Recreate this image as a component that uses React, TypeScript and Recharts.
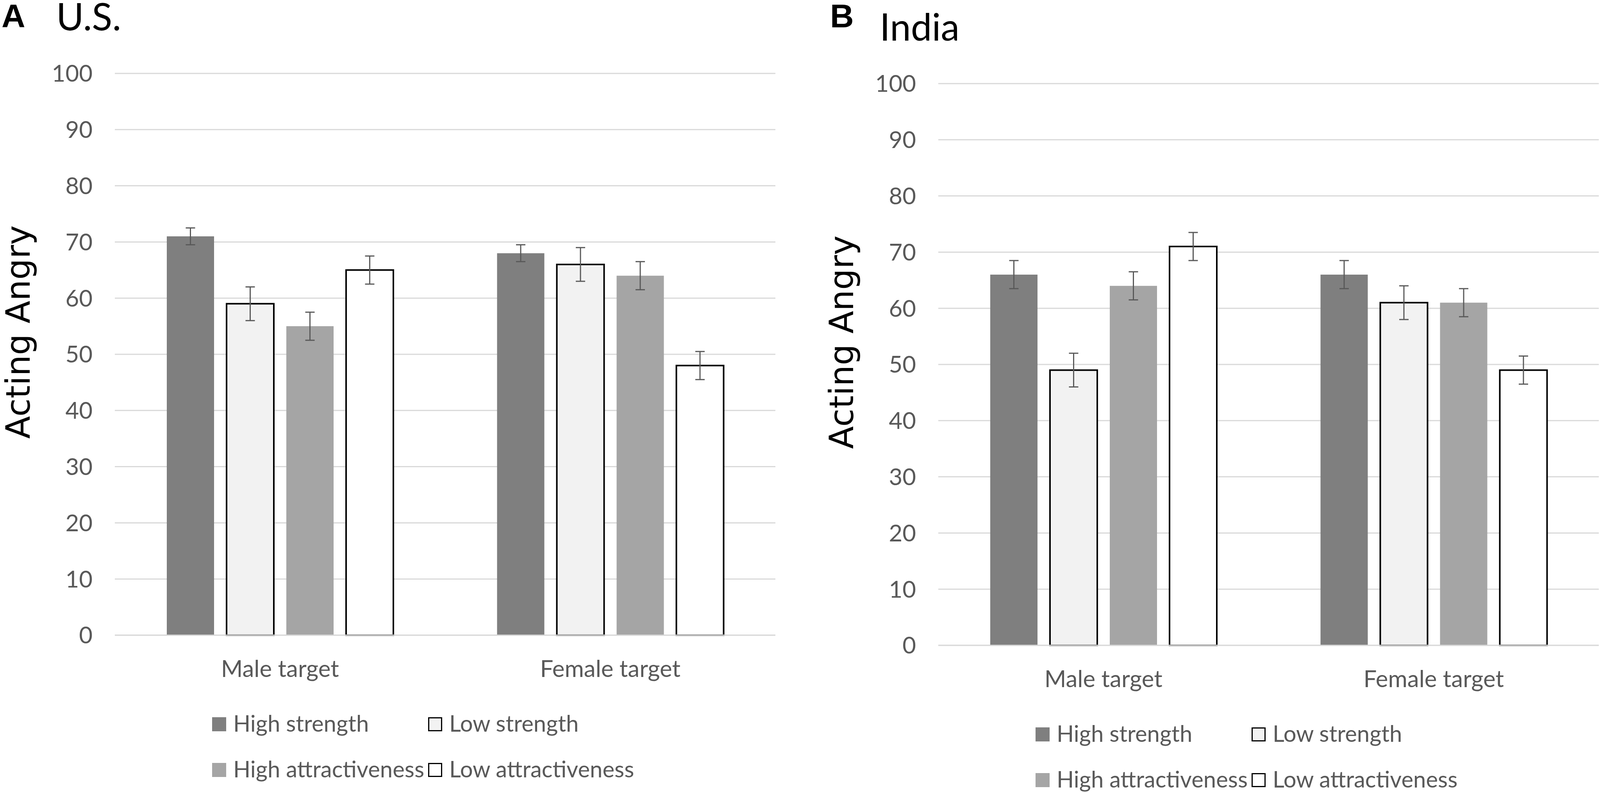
import React from 'react';
import { BarChart, Bar, XAxis, YAxis, CartesianGrid, ErrorBar, Legend } from 'recharts';

// categories and series
const categories = ['Male target', 'Female target'];
const seriesNames = ['High strength', 'Low strength', 'High attractiveness', 'Low attractiveness'];
const yTicks = [0, 10, 20, 30, 40, 50, 60, 70, 80, 90, 100];

// U.S. means and error bars
const usHighStrength = [71, 68];
const usLowStrength = [59, 66];
const usHighAttractiveness = [55, 64];
const usLowAttractiveness = [65, 48];
const usHighStrengthErr = [1.5, 1.5];
const usLowStrengthErr = [3, 3];
const usHighAttractivenessErr = [2.5, 2.5];
const usLowAttractivenessErr = [2.5, 2.5];

// India means and error bars
const indiaHighStrength = [66, 66];
const indiaLowStrength = [49, 61];
const indiaHighAttractiveness = [64, 61];
const indiaLowAttractiveness = [71, 49];
const indiaHighStrengthErr = [2.5, 2.5];
const indiaLowStrengthErr = [3, 3];
const indiaHighAttractivenessErr = [2.5, 2.5];
const indiaLowAttractivenessErr = [2.5, 2.5];

const seriesStyle = [
  { key: 's0', fill: '#7f7f7f', stroke: 'none' },
  { key: 's1', fill: '#f2f2f2', stroke: '#000000' },
  { key: 's2', fill: '#a5a5a5', stroke: 'none' },
  { key: 's3', fill: '#ffffff', stroke: '#000000' },
];

const buildRows = (vals: number[][], errs: number[][]) =>
  categories.map((name, i) => {
    const row: Record<string, any> = { name };
    vals.forEach((v, s) => {
      row[`s${s}`] = v[i];
      row[`s${s}Err`] = errs[s][i];
    });
    return row;
  });

const usRows = buildRows(
  [usHighStrength, usLowStrength, usHighAttractiveness, usLowAttractiveness],
  [usHighStrengthErr, usLowStrengthErr, usHighAttractivenessErr, usLowAttractivenessErr]
);
const indiaRows = buildRows(
  [indiaHighStrength, indiaLowStrength, indiaHighAttractiveness, indiaLowAttractiveness],
  [indiaHighStrengthErr, indiaLowStrengthErr, indiaHighAttractivenessErr, indiaLowAttractivenessErr]
);

const FONT = 'Lato, "Open Sans", sans-serif';
const TEXT_GREY = '#595959';
const GRID = '#d9d9d9';

// the visible page is 4096 wide, so horizontal positions are squeezed to fit
const PAGE_W = 4096;
const PAGE_H = 2030;
const PLOT_LEFT = 294;
const PLOT_RIGHT = 1985;
const CHART_W = 1988;
const PLOT_TOP = 188;
const PLOT_BOTTOM = 1626;
const PANEL_B_DX = 2108;
const PANEL_B_DY = 26;

const renderLegend = (props: any) => {
  const { payload = [] } = props;
  return (
    <div
      style={{
        display: 'grid',
        gridTemplateColumns: '553px 700px',
        gridAutoRows: '117px',
        fontFamily: FONT,
        fontSize: 58,
        color: TEXT_GREY,
      }}
    >
      {seriesNames.map((name, idx) => {
        const entry = payload.find((p: any) => p.value === name);
        const st = seriesStyle[idx];
        return (
          <div key={name} style={{ display: 'flex', alignItems: 'center', whiteSpace: 'nowrap' }}>
            <span
              style={{
                display: 'inline-block',
                width: 36,
                height: 36,
                boxSizing: 'border-box',
                background: st.fill,
                border: st.stroke === 'none' ? 'none' : `3px solid ${st.stroke}`,
                marginRight: 18,
                position: 'relative',
                top: 3,
              }}
            />
            <span>{entry ? entry.value : name}</span>
          </div>
        );
      })}
    </div>
  );
};

const Panel = ({ rows, height }: { rows: any[]; height: number }) => (
  <BarChart
    width={CHART_W}
    height={height}
    data={rows}
    barSize={121}
    barGap={32}
    margin={{ top: PLOT_TOP, right: CHART_W - PLOT_RIGHT, bottom: height - PLOT_BOTTOM - 100, left: PLOT_LEFT - 100 }}
  >
    <CartesianGrid vertical={false} stroke={GRID} strokeWidth={3} />
    <XAxis
      dataKey="name"
      height={100}
      tickLine={false}
      tickSize={0}
      tickMargin={64}
      axisLine={{ stroke: GRID, strokeWidth: 3 }}
      tick={{ fill: TEXT_GREY, fontSize: 60, fontFamily: FONT }}
    />
    <YAxis
      width={100}
      domain={[0, 100]}
      ticks={yTicks}
      interval={0}
      axisLine={false}
      tickLine={false}
      tickSize={0}
      tickMargin={57}
      tick={{ fill: TEXT_GREY, fontSize: 60, fontFamily: FONT }}
    />
    <Legend
      layout="horizontal"
      verticalAlign="middle"
      align="center"
      content={renderLegend}
      wrapperStyle={{ left: 543, top: 1792, width: 1300, height: 234 }}
    />
    {seriesStyle.map((s, i) => (
      <Bar
        key={s.key}
        dataKey={s.key}
        name={seriesNames[i]}
        fill={s.fill}
        stroke={s.stroke}
        strokeWidth={s.stroke === 'none' ? 0 : 4}
        isAnimationActive={false}
      >
        <ErrorBar dataKey={`${s.key}Err`} direction="y" width={12} stroke={TEXT_GREY} strokeWidth={3} />
      </Bar>
    ))}
  </BarChart>
);

export default function App() {
  return (
    <div
      style={{
        position: 'absolute',
        left: 0,
        top: 0,
        width: PAGE_W,
        height: PAGE_H,
        overflow: 'hidden',
        background: '#ffffff',
      }}
    >
      <div style={{ position: 'absolute', left: 0, top: 0 }}>
        <Panel rows={usRows} height={PAGE_H} />
      </div>
      <div style={{ position: 'absolute', left: PANEL_B_DX, top: PANEL_B_DY }}>
        <Panel rows={indiaRows} height={PAGE_H - PANEL_B_DY} />
      </div>
      <svg
        width={PAGE_W}
        height={PAGE_H}
        style={{ position: 'absolute', left: 0, top: 0, pointerEvents: 'none' }}
      >
        <text x={4} y={70} fontFamily='"Liberation Sans", Arial, sans-serif' fontWeight="bold" fontSize={84} fill="#000">
          A
        </text>
        <text x={144} y={78} fontFamily={FONT} fontSize={96} fill="#000">
          U.S.
        </text>
        <text
          x={76}
          y={850}
          transform="rotate(-90, 76, 850)"
          textAnchor="middle"
          fontFamily='"DejaVu Sans", sans-serif'
          fontSize={85}
          fill="#000"
        >
          Acting Angry
        </text>
        <text x={2125} y={70} fontFamily='"Liberation Sans", Arial, sans-serif' fontWeight="bold" fontSize={84} fill="#000">
          B
        </text>
        <text x={144 + PANEL_B_DX} y={78 + PANEL_B_DY} fontFamily={FONT} fontSize={96} fill="#000">
          India
        </text>
        <text
          x={76 + PANEL_B_DX}
          y={850 + PANEL_B_DY}
          transform={`rotate(-90, ${76 + PANEL_B_DX}, ${850 + PANEL_B_DY})`}
          textAnchor="middle"
          fontFamily='"DejaVu Sans", sans-serif'
          fontSize={85}
          fill="#000"
        >
          Acting Angry
        </text>
      </svg>
    </div>
  );
}
